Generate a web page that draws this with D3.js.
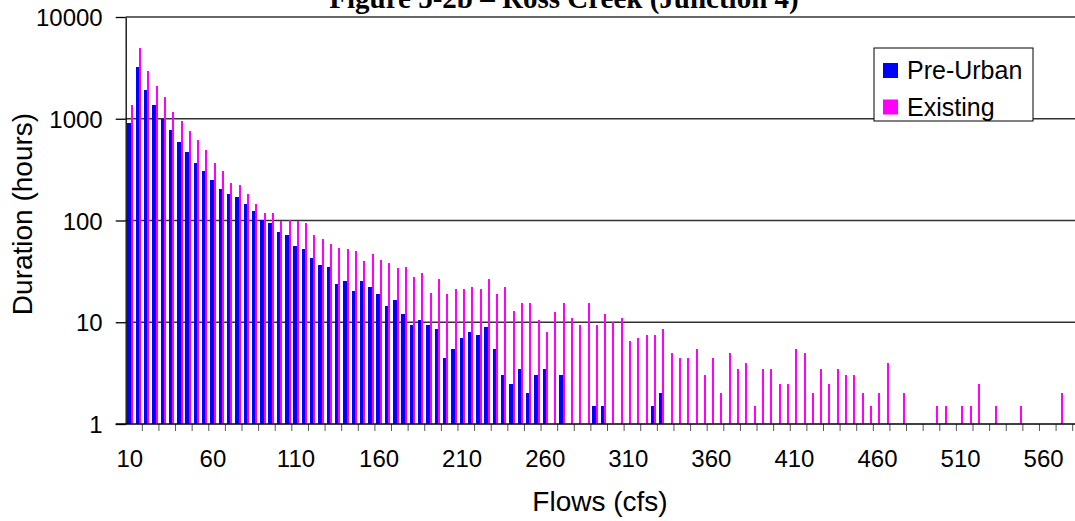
<!DOCTYPE html>
<html>
<head>
<meta charset="utf-8">
<script src="https://cdn.jsdelivr.net/npm/d3@7"></script>
<style>
  body { margin: 0; background: #fff; }
  svg { display: block; }
  text { font-family: "Liberation Sans", Arial, sans-serif; fill: #000; }
</style>
</head>
<body>
<script>
// Width and height
var w = 1075;
var h = 521;

// flow classes (cfs)
var flows = [10, 15, 20, 25, 30, 35, 40, 45, 50, 55,
             60, 65, 70, 75, 80, 85, 90, 95, 100, 105,
             110, 115, 120, 125, 130, 135, 140, 145, 150, 155,
             160, 165, 170, 175, 180, 185, 190, 195, 200, 205,
             210, 215, 220, 225, 230, 235, 240, 245, 250, 255,
             260, 265, 270, 275, 280, 285, 290, 295, 300, 305,
             310, 315, 320, 325, 330, 335, 340, 345, 350, 355,
             360, 365, 370, 375, 380, 385, 390, 395, 400, 405,
             410, 415, 420, 425, 430, 435, 440, 445, 450, 455,
             460, 465, 470, 475, 480, 485, 490, 495, 500, 505,
             510, 515, 520, 525, 530, 535, 540, 545, 550, 555,
             560, 565, 570, 575, 580];

// duration (hours), null = no bar
var preUrban = [900, 3200, 1900, 1360, 990, 770, 590, 470, 366, 306,
                249, 204, 182, 170, 145, 124, 101, 94, 77, 72,
                56, 52, 43, 36.5, 35, 23.5, 25.5, 20.5, 25.5, 22,
                19, 14.5, 16.5, 12, 9.5, 10.5, 9.5, 8.5, 4.5, 5.5,
                7, 8, 7.5, 9, 5.5, 3, 2.5, 3.5, 2, 3,
                3.5, null, 3, null, null, null, 1.5, 1.5, null, null,
                null, null, null, 1.5, 2];

var existing = [1360, 4930, 2940, 2090, 1630, 1160, 947, 755, 617, 492,
                366, 306, 233, 223, 182, 145, 118, 118, 99, 101,
                99, 94, 72, 65.5, 58.5, 53.5, 52.5, 50, 40, 47,
                41, 38, 34, 35, 28, 30.5, 19.5, 26.5, 19, 21,
                21, 22, 21, 26.5, 19, 22, 13, 15.5, 15.5, 10.5,
                8, 12.5, 15.5, 11, 9.5, 15.5, 9.5, 12, 10, 11,
                6.5, 7, 7.5, 7.5, 8.5, 5, 4.5, 4.5, 5.5, 3,
                4.5, 2, 5, 3.5, 4, 1.5, 3.5, 3.5, 2.5, 2.5,
                5.5, 5, 2, 3.5, 2.5, 3.5, 3, 3, 2, 1.5,
                2, 4, null, 2, null, null, null, 1.5, 1.5, null,
                1.5, 1.5, 2.5, null, 1.5, null, null, 1.5, null, null,
                null, null, 2, null, null];

var yTicks = [1, 10, 100, 1000, 10000];
var xLabels = [10, 60, 110, 160, 210, 260, 310, 360, 410, 460, 510, 560];
var seriesNames = ["Pre-Urban", "Existing"];
var colors = ["#0000ff", "#ff00ff"];

// plot area (window.top is reserved, so prefixed names)
var plotL = 125.7, plotR = 1081, plotT = 17, plotB = 424;

var svg = d3.select("body")
            .append("svg")
            .attr("width", w)
            .attr("height", h);

var x = d3.scaleBand()
          .domain(flows)
          .range([plotL, plotR])
          .padding(0);

var y = d3.scaleLog()
          .domain([1, 10000])
          .range([plotB, plotT]);

var bw = x.bandwidth();

// snapped pixel edges inside each class
function preX(c) { return Math.round(x(c) + bw * 0.19); }
function exiX(c) { return Math.round(x(c) + bw * 0.60); }

// title (cut off at top of the picture)
svg.append("text")
   .attr("x", 564)
   .attr("y", 8)
   .attr("text-anchor", "middle")
   .style("font-family", "'Liberation Serif', 'Times New Roman', serif")
   .style("font-weight", "bold")
   .style("font-size", "29px")
   .text("Figure 5-2b \u2013 Ross Creek (Junction 4)");

// gridlines
svg.selectAll("line.grid")
   .data(yTicks.slice(1))
   .enter()
   .append("line")
   .attr("class", "grid")
   .attr("x1", plotL)
   .attr("x2", w)
   .attr("y1", function(d) { return y(d); })
   .attr("y2", function(d) { return y(d); })
   .attr("stroke", "#333")
   .attr("stroke-width", 1.3);

// bars
svg.selectAll("rect.pre")
   .data(preUrban.map(function(d, i) { return {c: flows[i], v: d}; }).filter(function(d) { return d.v; }))
   .enter()
   .append("rect")
   .attr("class", "pre")
   .attr("x", function(d) { return preX(d.c); })
   .attr("y", function(d) { return Math.round(y(d.v)); })
   .attr("width", function(d) { return exiX(d.c) - preX(d.c); })
   .attr("height", function(d) { return plotB - Math.round(y(d.v)); })
   .attr("fill", colors[0]);

svg.selectAll("rect.exi")
   .data(existing.map(function(d, i) { return {c: flows[i], v: d}; }).filter(function(d) { return d.v; }))
   .enter()
   .append("rect")
   .attr("class", "exi")
   .attr("x", function(d) { return exiX(d.c); })
   .attr("y", function(d) { return Math.round(y(d.v)); })
   .attr("width", 2)
   .attr("height", function(d) { return plotB - Math.round(y(d.v)); })
   .attr("fill", colors[1]);

// y axis
var yAxis = d3.axisLeft(y)
              .tickValues(yTicks)
              .tickFormat(d3.format("d"))
              .tickSizeInner(10)
              .tickSizeOuter(0)
              .tickPadding(13);

var gy = svg.append("g")
            .attr("transform", "translate(" + plotL + ",0)")
            .call(yAxis);
gy.selectAll("text")
  .style("font-size", "24px")
  .style("font-family", "'Liberation Sans', Arial, sans-serif")
  .attr("dy", "0.36em");
gy.select(".domain").attr("stroke", "#000").attr("stroke-width", 1.3);
gy.selectAll(".tick line").attr("stroke", "#000").attr("stroke-width", 1.3);

// x axis: labels every 50 cfs, small ticks every second class
var xAxis = d3.axisBottom(x)
              .tickValues(xLabels)
              .tickSize(0)
              .tickPadding(26);

var gx = svg.append("g")
            .attr("transform", "translate(0," + plotB + ")")
            .call(xAxis);
gx.select(".domain").remove();
gx.selectAll("text")
  .style("font-size", "24px")
  .style("font-family", "'Liberation Sans', Arial, sans-serif");

svg.selectAll("line.xtick")
   .data(flows.filter(function(d, i) { return i % 2 == 0 && i > 0; }))
   .enter()
   .append("line")
   .attr("class", "xtick")
   .attr("x1", function(d) { return x(d); })
   .attr("x2", function(d) { return x(d); })
   .attr("y1", plotB)
   .attr("y2", plotB + 7)
   .attr("stroke", "#555")
   .attr("stroke-width", 1);

svg.append("line")
   .attr("x1", plotL - 10)
   .attr("x2", w)
   .attr("y1", plotB)
   .attr("y2", plotB)
   .attr("stroke", "#000")
   .attr("stroke-width", 1.3);

// axis titles
svg.append("text")
   .attr("transform", "translate(32,214) rotate(-90)")
   .attr("text-anchor", "middle")
   .style("font-size", "28px")
   .text("Duration (hours)");

svg.append("text")
   .attr("x", 600)
   .attr("y", 511)
   .attr("text-anchor", "middle")
   .style("font-size", "28px")
   .text("Flows (cfs)");

// legend
var legend = svg.append("g");
legend.append("rect")
      .attr("x", 874)
      .attr("y", 48)
      .attr("width", 159)
      .attr("height", 73)
      .attr("fill", "#fff")
      .attr("stroke", "#000")
      .attr("stroke-width", 1);

var items = legend.selectAll("g.item")
                  .data(seriesNames)
                  .enter()
                  .append("g")
                  .attr("class", "item")
                  .attr("transform", function(d, i) { return "translate(883," + (63 + i * 36.5) + ")"; });
items.append("rect")
     .attr("width", 15)
     .attr("height", 15)
     .attr("fill", function(d, i) { return colors[i]; });
items.append("text")
     .attr("x", 24)
     .attr("y", 16)
     .style("font-size", "25px")
     .text(function(d) { return d; });
</script>
</body>
</html>
